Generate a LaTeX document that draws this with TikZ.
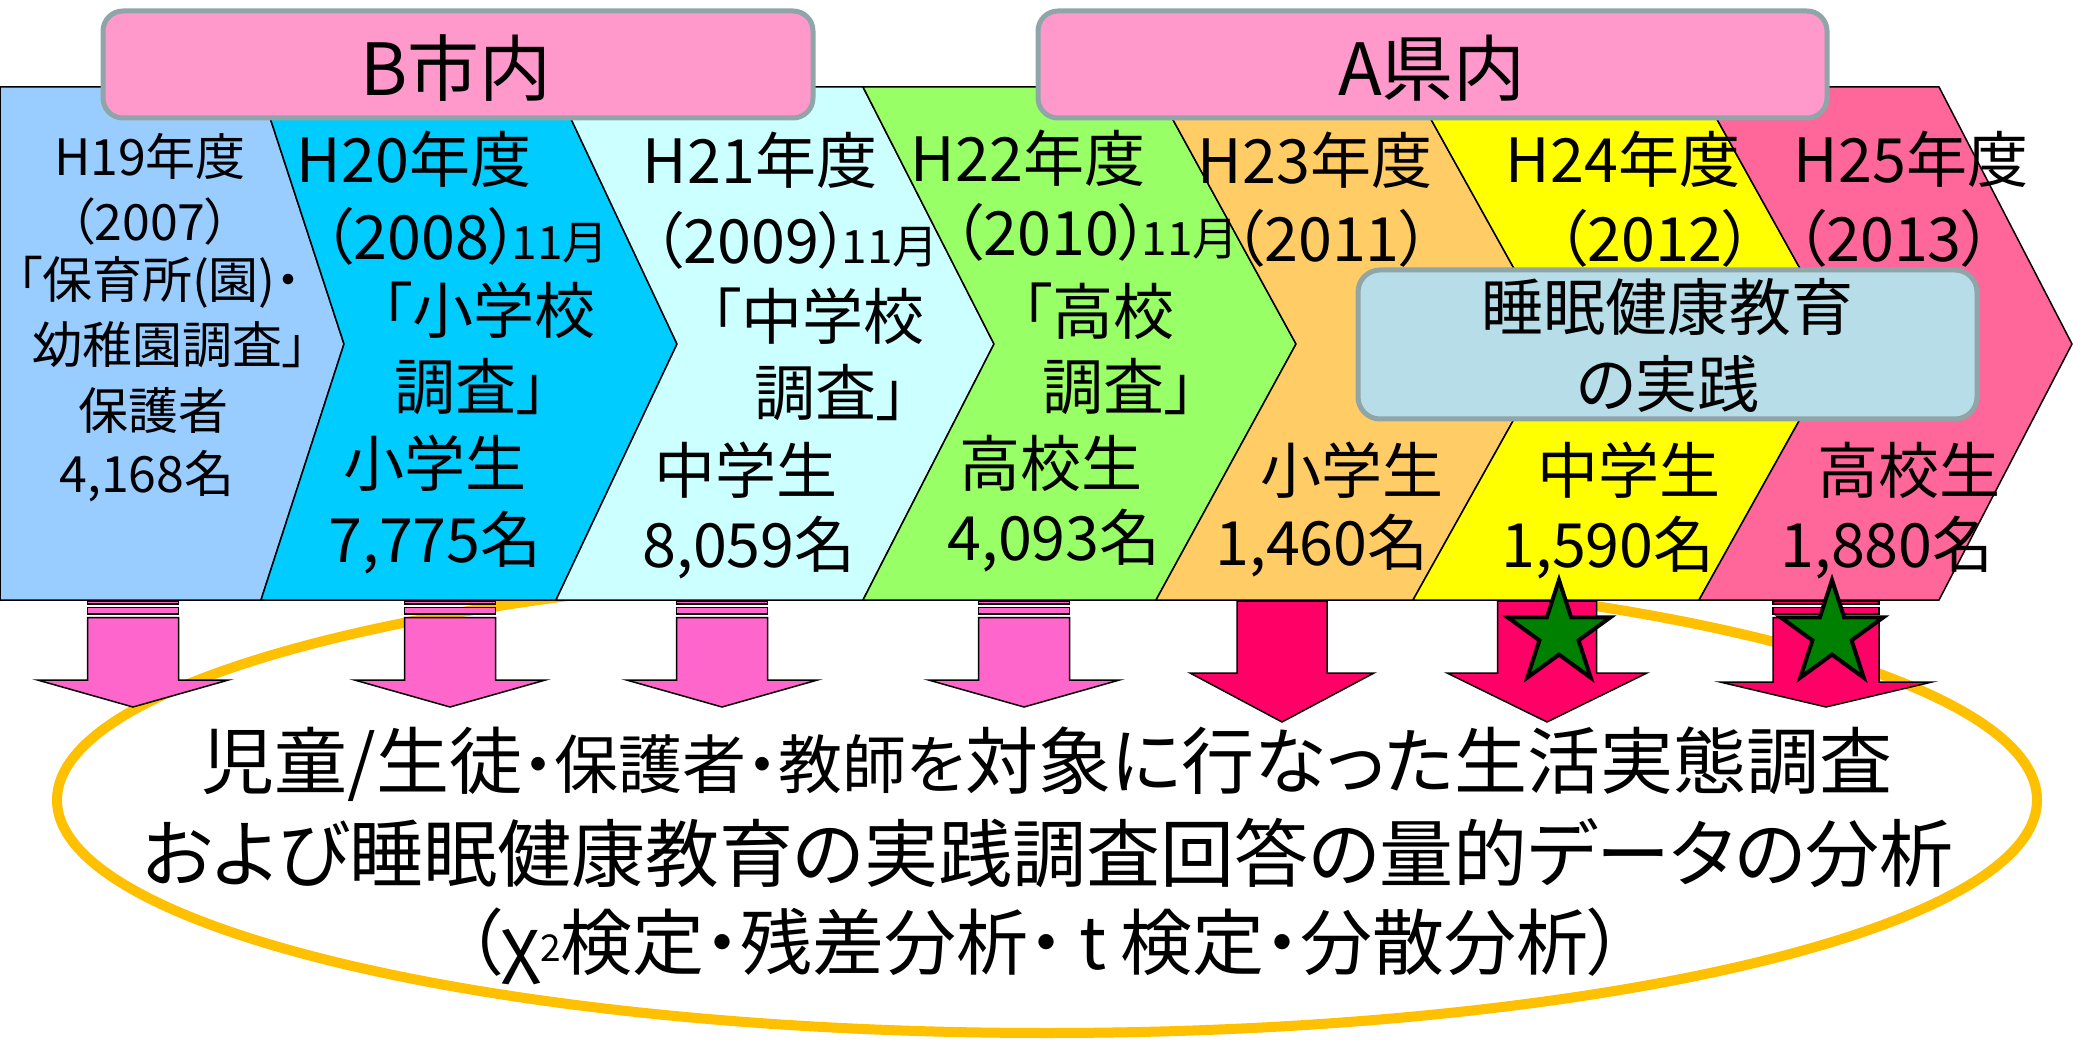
\documentclass[tikz,border=0pt]{standalone}
\usepackage{fontspec}
\setmainfont{Noto Sans CJK JP}[RawFeature={+palt}]
\newcommand\setfs[1]{\fontsize{#1}{#1}\selectfont}
\definecolor{pa}{HTML}{99CCFF}
\definecolor{pb}{HTML}{00CCFF}
\definecolor{pc}{HTML}{CCFFFF}
\definecolor{pd}{HTML}{99FF66}
\definecolor{pe}{HTML}{FFCC66}
\definecolor{pf}{HTML}{FFFF00}
\definecolor{pg}{HTML}{FF6699}
\definecolor{regfill}{HTML}{FF99CC}
\definecolor{boxedge}{HTML}{8FA5A8}
\definecolor{sleepfill}{HTML}{B7DEE8}
\definecolor{lightarrow}{HTML}{FF66CC}
\definecolor{deeparrow}{HTML}{FF0066}
\definecolor{stargreen}{HTML}{008000}
\definecolor{ringorange}{HTML}{FFC000}
\tikzset{
  panel/.style={draw=black,line width=1.5pt,line join=miter},
  regbox/.style={draw=boxedge,fill=regfill,line width=5pt,rounded corners=20pt},
  sleepbox/.style={draw=boxedge,fill=sleepfill,line width=5pt,rounded corners=22pt},
  arrowline/.style={draw=black,line width=1.5pt,line join=miter},
  starstyle/.style={draw=black,fill=stargreen,line width=4pt,line join=miter},
  ring/.style={draw=ringorange,line width=10pt},
  txt/.style={inner sep=0pt,anchor=center,text=black},
  tA/.style={txt,font=\setfs{50}},
  tB/.style={txt,font=\setfs{61}},
}
\newcommand\downarrowshape[7]{%
  \filldraw[arrowline,fill=#7] ({#1-#2},#4) -- ({#1-#2},#5) -- ({#1-#3},#5) -- (#1,#6) -- ({#1+#3},#5) -- ({#1+#2},#5) -- ({#1+#2},#4) -- cycle;}
\newcommand\arrstripes[3]{%
  \filldraw[arrowline,fill=#3] ({#1-#2},601) rectangle ({#1+#2},604);
  \filldraw[arrowline,fill=#3] ({#1-#2},607.5) rectangle ({#1+#2},614);}
\newcommand\greenstar[2]{%
  \filldraw[starstyle,shift={(#1,#2)}] (90:54pt) -- (126:20.6pt) -- (162:54pt) -- (198:20.6pt) -- (234:54pt) -- (270:20.6pt) -- (306:54pt) -- (342:20.6pt) -- (18:54pt) -- (54:20.6pt) -- cycle;}
\newcommand\monthtag{\hspace{-8pt}{\setfs{46}11月}}
\begin{document}
\begin{tikzpicture}[x=1pt,y=-1pt]
\useasboundingbox (0,0) rectangle (2073,1040);
\fill[white] (0,0) rectangle (2073,1040);

% ellipse and its text
\draw[ring] (1047,800) ellipse [x radius=990pt, y radius=233pt];
\node[txt,font=\setfs{73}] (s1) at (1047,764) {児童/生徒{\setfs{64}・保護者・教師を}対象に行なった生活実態調査};
\node[txt,font=\setfs{74}] (s2) at (1048,853) {および睡眠健康教育の実践調査回答の量的データの分析};
\node[txt,font=\setfs{72}] (s3) at (1045,946) {（χ\raisebox{8pt}{\setfs{37}2}検定・残差分析・\hspace{14pt}t\hspace{14pt}検定・分散分析）};

% chevron band
\filldraw[panel,fill=pa] (0,87) -- (260,87) -- (344,344) -- (261,600) -- (0,600) -- cycle;
\filldraw[panel,fill=pb] (260,87) -- (556,87) -- (677,344) -- (556,600) -- (261,600) -- (344,344) -- cycle;
\filldraw[panel,fill=pc] (556,87) -- (863,87) -- (994,344) -- (863,600) -- (556,600) -- (677,344) -- cycle;
\filldraw[panel,fill=pd] (863,87) -- (1155,87) -- (1296,344) -- (1156,600) -- (863,600) -- (994,344) -- cycle;
\filldraw[panel,fill=pe] (1155,87) -- (1413,87) -- (1556,344) -- (1413,600) -- (1156,600) -- (1296,344) -- cycle;
\filldraw[panel,fill=pf] (1413,87) -- (1699,87) -- (1842,344) -- (1699,600) -- (1413,600) -- (1556,344) -- cycle;
\filldraw[panel,fill=pg] (1699,87) -- (1939,87) -- (2072,344) -- (1939,600) -- (1699,600) -- (1842,344) -- cycle;

% region boxes
\draw[regbox] (103,11) rectangle (813,118);
\node[txt,font=\setfs{72}] (bcity) at (456,68) {B市内};
\draw[regbox] (1038,11) rectangle (1827,118);
\node[txt,font=\setfs{72}] (apref) at (1432,68) {A県内};

% panel 1
\node[tA] (a1) at (150,156) {H19年度};
\node[tA] (a2) at (150,222) {（2007）};
\node[tA] (a3) at (159,282) {「保育所(園)・};
\node[tA] (a4) at (170,345) {幼稚園調査」};
\node[tA] (a5) at (153,411) {保護者};
\node[tA] (a6) at (147,476) {4,168名};
% panel 2
\node[tB] (b1) at (414,159) {H20年度};
\node[tB] (b2) at (466,236) {（2008）\monthtag};
\node[tB] (b3) at (489,310) {「小学校};
\node[tB] (b4) at (471,387) {調査」};
\node[tB] (b5) at (435,463) {小学生};
\node[tB] (b6) at (435,543) {7,775名};
% panel 3
\node[tB] (c1) at (760,160) {H21年度};
\node[tB] (c2) at (796,240) {（2009）\monthtag};
\node[tB] (c3) at (818,316) {「中学校};
\node[tB] (c4) at (831,393) {調査」};
\node[tB] (c5) at (746,470) {中学生};
\node[tB] (c6) at (749,548) {8,059名};
% panel 4
\node[tB] (d1) at (1028,158) {H22年度};
\node[tB] (d2) at (1096,232) {（2010）\monthtag};
\node[tB] (d3) at (1098,311) {「高校};
\node[tB] (d4) at (1119,387) {調査」};
\node[tB] (d5) at (1051,463) {高校生};
\node[tB] (d6) at (1054,541) {4,093名};
% panel 5
\node[tB] (e1) at (1315,160) {H23年度};
\node[tB] (e2) at (1332,238) {（2011）};
\node[tB] (e5) at (1352,470) {小学生};
\node[tB] (e6) at (1322,546) {1,460名};
% panel 6
\node[tB] (f1) at (1623,159) {H24年度};
\node[tB] (f2) at (1655,238) {（2012）};
\node[tB] (f5) at (1629,470) {中学生};
\node[tB] (f6) at (1608,548) {1,590名};
% panel 7
\node[tB] (g1) at (1911,159) {H25年度};
\node[tB] (g2) at (1894,238) {（2013）};
\node[tB] (g5) at (1909,470) {高校生};
\node[tB] (g6) at (1887,548) {1,880名};

% sleep education box
\draw[sleepbox] (1358,270) rectangle (1977,419);
\node[txt,font=\setfs{62}] (sl1) at (1667,307) {睡眠健康教育};
\node[txt,font=\setfs{62}] (sl2) at (1668,384) {の実践};

% arrows
\arrstripes{133}{45.5}{lightarrow}
\downarrowshape{133}{45.5}{95.5}{617.5}{680}{707}{lightarrow}
\arrstripes{450}{45.5}{lightarrow}
\downarrowshape{450}{45.5}{95.5}{617.5}{680}{707}{lightarrow}
\arrstripes{722}{45.5}{lightarrow}
\downarrowshape{722}{45.5}{95.5}{617.5}{680}{707}{lightarrow}
\arrstripes{1024}{45.5}{lightarrow}
\downarrowshape{1024}{45.5}{95.5}{617.5}{680}{707}{lightarrow}
\downarrowshape{1282}{45}{92}{601}{673}{722}{deeparrow}
\downarrowshape{1547}{49.5}{100}{601}{673}{722}{deeparrow}
\arrstripes{1826}{53}{deeparrow}
\downarrowshape{1826}{53}{106}{617.5}{682}{707}{deeparrow}

% stars
\greenstar{1559}{634}
\greenstar{1832}{634}
\end{tikzpicture}
\end{document}
